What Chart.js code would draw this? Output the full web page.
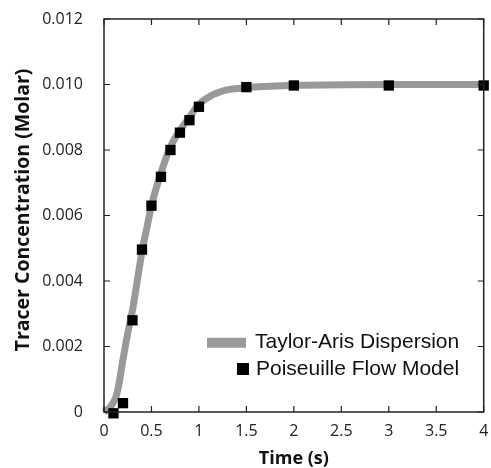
<!DOCTYPE html>
<html>
<head>
<meta charset="utf-8">
<script src="https://cdn.jsdelivr.net/npm/chart.js@4.4.1/dist/chart.umd.min.js"></script>
<style>
  body { margin: 0; background: #fff; }
  #wrap { width: 491px; height: 468px; }
</style>
</head>
<body>
<div id="wrap"><canvas id="tracerChart"></canvas></div>
<script>
// Taylor-Aris model curve (time s, concentration M)
var curveTime = [0, 0.05, 0.1, 0.13, 0.16, 0.2, 0.25, 0.3, 0.35, 0.4, 0.45, 0.5, 0.6, 0.7, 0.8, 0.9, 1.0, 1.25, 1.5, 2.0, 3.0, 4.0];
var curveConc = [0, 0.0001, 0.0003, 0.0005, 0.0009, 0.0016, 0.0024, 0.0031, 0.0040, 0.0049, 0.0056, 0.0063, 0.0073, 0.0081, 0.0086, 0.0090, 0.0094, 0.0098, 0.0099, 0.00997, 0.0100, 0.0100];

// Poiseuille flow model points
var pointTime = [0.1, 0.2, 0.3, 0.4, 0.5, 0.6, 0.7, 0.8, 0.9, 1.0, 1.5, 2.0, 3.0, 4.0];
var pointConc = [-0.00004, 0.00027, 0.0028, 0.00496, 0.0063, 0.00718, 0.0080, 0.00853, 0.00891, 0.00932, 0.00992, 0.00997, 0.00997, 0.00997];

var xTicks = [0, 0.5, 1, 1.5, 2, 2.5, 3, 3.5, 4];
var yTicks = [0, 0.002, 0.004, 0.006, 0.008, 0.010, 0.012];

var seriesNames = ["Taylor-Aris Dispersion", "Poiseuille Flow Model"];
var yTitle = "Tracer Concentration (Molar)";

function toXY(xs, ys) {
    return xs.map(function (x, i) { return { x: x, y: ys[i] }; });
}

// inward tick marks, frame, y title and in-plot legend
const frameAndLegend = {
    id: "frameAndLegend",
    afterDatasetsDraw(chart) {
        const { ctx, chartArea: { left, right, top, bottom }, scales } = chart;
        ctx.save();
        ctx.strokeStyle = "#222";
        ctx.lineWidth = 1.5;
        ctx.strokeRect(left, top, right - left, bottom - top);
        ctx.lineWidth = 1.2;
        ctx.beginPath();
        xTicks.forEach(function (v) {
            var px = scales.x.getPixelForValue(v);
            ctx.moveTo(px, bottom); ctx.lineTo(px, bottom - 6);
            ctx.moveTo(px, top); ctx.lineTo(px, top + 6);
        });
        yTicks.forEach(function (v) {
            var py = scales.y.getPixelForValue(v);
            ctx.moveTo(left, py); ctx.lineTo(left + 6, py);
            ctx.moveTo(right, py); ctx.lineTo(right - 6, py);
        });
        ctx.stroke();

        // y axis title
        ctx.save();
        ctx.translate(23, 210);
        ctx.rotate(-Math.PI / 2);
        ctx.font = "bold 19.5px 'Open Sans'";
        ctx.fillStyle = "#111";
        ctx.textAlign = "center";
        ctx.textBaseline = "middle";
        ctx.fillText(yTitle, 0, 0);
        ctx.restore();

        // legend
        ctx.font = "21px 'Liberation Sans'";
        ctx.fillStyle = "#111";
        ctx.textBaseline = "alphabetic";
        ctx.textAlign = "left";
        ctx.strokeStyle = "#999";
        ctx.lineWidth = 10;
        ctx.beginPath();
        ctx.moveTo(207, 342.7); ctx.lineTo(246, 342.7);
        ctx.stroke();
        ctx.fillText(seriesNames[0], 255, 348);
        ctx.fillStyle = "#000";
        ctx.fillRect(237, 363, 12, 12);
        ctx.fillStyle = "#111";
        ctx.fillText(seriesNames[1], 256, 375);
        ctx.restore();
    },
};

var ctx = document.getElementById("tracerChart");
var tracerChart = new Chart(ctx, {
    type: "scatter",
    data: {
        datasets: [
            {
                label: seriesNames[0],
                data: toXY(curveTime, curveConc),
                showLine: true,
                borderColor: "#999999",
                borderWidth: 7,
                pointRadius: 0,
                cubicInterpolationMode: "monotone",
                clip: false,
                order: 2,
            },
            {
                label: seriesNames[1],
                data: toXY(pointTime, pointConc),
                showLine: false,
                pointStyle: "rect",
                pointRadius: 7.3,
                backgroundColor: "#000",
                borderColor: "#000",
                borderWidth: 0,
                clip: false,
                order: 1,
            },
        ],
    },
    options: {
        responsive: true,
        maintainAspectRatio: false,
        animation: false,
        layout: { padding: { top: 19, right: 5, left: 0, bottom: 0 } },
        scales: {
            x: {
                type: "linear",
                min: 0,
                max: 4,
                afterBuildTicks: function (scale) {
                    scale.ticks = xTicks.map(function (v) { return { value: v }; });
                },
                afterFit: function (scale) {
                    scale.height = 56;
                    scale.paddingLeft = 0;
                    scale.paddingRight = 0;
                },
                grid: { display: false, drawTicks: false },
                border: { display: false },
                ticks: {
                    padding: 10,
                    color: "#222",
                    font: { family: "Open Sans", size: 16 },
                    maxRotation: 0,
                    callback: function (v) { return String(v); },
                },
                title: {
                    display: true,
                    text: "Time (s)",
                    color: "#111",
                    font: { family: "Open Sans", size: 18, weight: "bold" },
                    padding: { top: 0, bottom: -2 },
                },
            },
            y: {
                type: "linear",
                min: 0,
                max: 0.012,
                afterBuildTicks: function (scale) {
                    scale.ticks = yTicks.map(function (v) { return { value: v }; });
                },
                afterFit: function (scale) {
                    scale.width = 104;
                    scale.paddingTop = 0;
                    scale.paddingBottom = 0;
                },
                grid: { display: false, drawTicks: false },
                border: { display: false },
                ticks: {
                    padding: 21,
                    color: "#222",
                    font: { family: "Open Sans", size: 16 },
                    callback: function (v) { return v === 0 ? "0" : v.toFixed(3); },
                },
            },
        },
        plugins: {
            legend: { display: false },
            tooltip: { enabled: false },
        },
    },
    plugins: [frameAndLegend],
});
</script>
</body>
</html>
